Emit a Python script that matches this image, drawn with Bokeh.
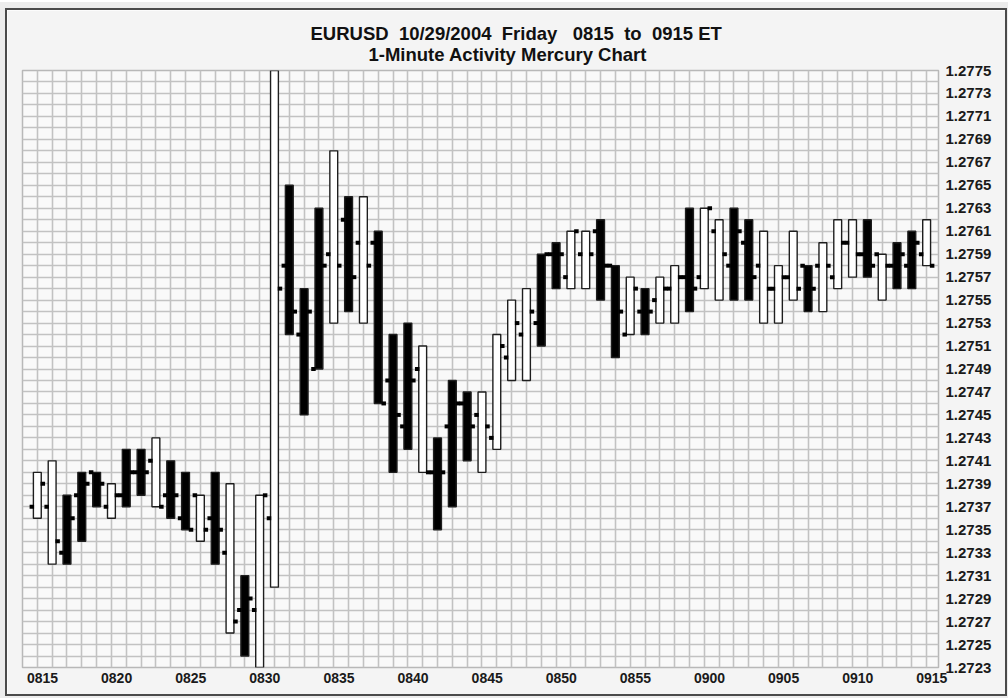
from bokeh.plotting import figure
from bokeh.models import FixedTicker, PrintfTickFormatter, Title, ColumnDataSource, Range1d, LinearAxis
from bokeh.embed import file_html
from bokeh.resources import INLINE

# ---- data (EURUSD 1-minute bars, 0815..0915 ET) ----
minutes = list(range(61))
tick_minutes = list(range(0, 61, 5))
tick_labels = ["0815", "0820", "0825", "0830", "0835", "0840", "0845",
               "0850", "0855", "0900", "0905", "0910", "0915"]

highs = [1.2740, 1.2741, 1.2738, 1.2740, 1.2740, 1.2739, 1.2742, 1.2742, 1.2743, 1.2741,
         1.2740, 1.2738, 1.2740, 1.2739, 1.2731, 1.2738, 1.2775, 1.2765, 1.2756, 1.2763,
         1.2768, 1.2764, 1.2764, 1.2761, 1.2752, 1.2753, 1.2751, 1.2743, 1.2748, 1.2747,
         1.2747, 1.2752, 1.2755, 1.2756, 1.2759, 1.2760, 1.2761, 1.2761, 1.2762, 1.2758,
         1.2757, 1.2756, 1.2757, 1.2758, 1.2763, 1.2763, 1.2762, 1.2763, 1.2762, 1.2761,
         1.2758, 1.2761, 1.2758, 1.2760, 1.2762, 1.2762, 1.2762, 1.2759, 1.2760, 1.2761,
         1.2762]
lows = [1.2736, 1.2732, 1.2732, 1.2734, 1.2737, 1.2736, 1.2737, 1.2738, 1.2737, 1.2736,
        1.2735, 1.2734, 1.2732, 1.2726, 1.2724, 1.2723, 1.2730, 1.2752, 1.2745, 1.2749,
        1.2753, 1.2754, 1.2753, 1.2746, 1.2740, 1.2742, 1.2740, 1.2735, 1.2737, 1.2741,
        1.2740, 1.2742, 1.2748, 1.2748, 1.2751, 1.2756, 1.2756, 1.2756, 1.2755, 1.2750,
        1.2752, 1.2752, 1.2753, 1.2753, 1.2754, 1.2756, 1.2755, 1.2755, 1.2755, 1.2753,
        1.2753, 1.2755, 1.2754, 1.2754, 1.2756, 1.2757, 1.2757, 1.2755, 1.2756, 1.2756,
        1.2758]
opens = [1.2737, 1.2737, 1.2733, 1.2738, 1.2740, 1.2737, 1.2738, 1.2740, 1.2741, 1.2738,
         1.2736, 1.2738, 1.2736, 1.2733, 1.2728, 1.2728, 1.2736, 1.2758, 1.2752, 1.2749,
         1.2759, 1.2762, 1.2760, 1.2760, 1.2748, 1.2744, 1.2749, 1.2740, 1.2744, 1.2746,
         1.2745, 1.2743, 1.2750, 1.2752, 1.2753, 1.2759, 1.2757, 1.2759, 1.2761, 1.2758,
         1.2752, 1.2754, 1.2755, 1.2756, 1.2757, 1.2757, 1.2761, 1.2758, 1.2760, 1.2758,
         1.2756, 1.2757, 1.2758, 1.2758, 1.2757, 1.2760, 1.2759, 1.2759, 1.2758, 1.2758,
         1.2759]
closes = [1.2739, 1.2734, 1.2736, 1.2739, 1.2739, 1.2738, 1.2740, 1.2740, 1.2737, 1.2738,
          1.2735, 1.2735, 1.2735, 1.2727, 1.2729, 1.2738, 1.2756, 1.2754, 1.2754, 1.2758,
          1.2758, 1.2757, 1.2758, 1.2746, 1.2745, 1.2748, 1.2740, 1.2740, 1.2746, 1.2744,
          1.2744, 1.2751, 1.2753, 1.2754, 1.2759, 1.2759, 1.2761, 1.2759, 1.2758, 1.2754,
          1.2756, 1.2754, 1.2756, 1.2757, 1.2756, 1.2763, 1.2759, 1.2761, 1.2757, 1.2756,
          1.2757, 1.2756, 1.2756, 1.2758, 1.2760, 1.2759, 1.2758, 1.2758, 1.2759, 1.2760,
          1.2758]
# activity: "B" = black (heavy) bar, "W" = white bar
activity = list("WWBBBWBBWBBWBWBWWBBBWBWBBBWBBBWWWWBBWWBBWBWWBWWBBWWWBWWWBWBBW")

title_1 = ("EURUSD\u00a0 10/29/2004\u00a0 Friday\u00a0 \u00a00815"
           "\u00a0 to\u00a0 0915 ET")
title_2 = "1-Minute Activity Mercury Chart"

y_ticks = [round(1.2723 + 0.0002 * k, 4) for k in range(27)]
grid_y = [round(1.2723 + 0.0001 * k, 4) for k in range(53)]

# ---- figure ----
FONT = "Liberation Sans"
p = figure(frame_width=916, frame_height=597, output_backend="svg", toolbar_location=None,
           x_range=Range1d(-1.0, 60.8), y_range=Range1d(1.2723, 1.2775),
           y_axis_location="right", x_axis_location=None,
           min_border_left=15, min_border_top=60, min_border_right=67, min_border_bottom=27,
           background_fill_color="#f9f9f9", border_fill_color="#f4f4f4",
           outline_line_color="#b8b8b8", outline_line_width=1.5)
p.styles = {"margin-left": "5px", "margin-top": "8px", "border": "2px solid #4a4a4a",
            "box-shadow": "0 0 0 6px #ececec"}

t2 = Title(text=title_2, align="left", offset=346, standoff=11,
           text_font=FONT, text_font_size="18.5px", text_font_style="bold", text_color="#111111")
t1 = Title(text=title_1, align="left", offset=288, standoff=-14,
           text_font=FONT, text_font_size="18.5px", text_font_style="bold", text_color="#111111")
p.title = None
p.add_layout(t2, "above")
p.add_layout(t1, "above")

# grid
p.xgrid.ticker = FixedTicker(ticks=list(range(-1, 61)))
p.ygrid.ticker = FixedTicker(ticks=grid_y)
for g in (p.xgrid, p.ygrid):
    g.grid_line_color = "#c2c2c2"
    g.grid_line_width = 1.6

# right axis (prices)
ya = p.yaxis[0]
ya.ticker = FixedTicker(ticks=y_ticks)
ya.formatter = PrintfTickFormatter(format="%.4f")
ya.axis_line_color = None
ya.major_tick_line_color = None
ya.minor_tick_line_color = None
ya.major_tick_out = 0
ya.major_label_standoff = 7
ya.major_label_text_font = FONT
ya.major_label_text_font_style = "bold"
ya.major_label_text_font_size = "15px"
ya.major_label_text_color = "#1a1a1a"

# bottom axis (times), on a slightly shifted range so labels sit as in the original
p.extra_x_ranges = {"lab": Range1d(-1.35, 60.45)}
xa = LinearAxis(x_range_name="lab")
xa.ticker = FixedTicker(ticks=tick_minutes)
xa.major_label_overrides = {m: lab for m, lab in zip(tick_minutes, tick_labels)}
xa.axis_line_color = None
xa.major_tick_line_color = None
xa.minor_tick_line_color = None
xa.major_tick_out = 0
xa.major_label_standoff = 5
xa.major_label_text_font = FONT
xa.major_label_text_font_style = "bold"
xa.major_label_text_font_size = "14px"
xa.major_label_text_color = "#1a1a1a"
p.add_layout(xa, "below")

# ---- bars ----
fills = ["#000000" if a == "B" else "#ffffff" for a in activity]
src = ColumnDataSource(dict(
    x=minutes, high=highs, low=lows, open=opens, close=closes, fill=fills,
    xl=[m - 0.37 for m in minutes], xr=[m + 0.37 for m in minutes],
))
p.vbar(x="x", bottom="low", top="high", width=0.53, fill_color="fill",
       line_color="#1e1e1e", line_width=1.4, source=src)
p.rect(x="xl", y="open", width=4.5, height=4, width_units="screen", height_units="screen",
       fill_color="#000000", line_color=None, source=src)
p.rect(x="xr", y="close", width=4.5, height=4, width_units="screen", height_units="screen",
       fill_color="#000000", line_color=None, source=src)

open("out.html", "w").write(file_html(p, INLINE))
